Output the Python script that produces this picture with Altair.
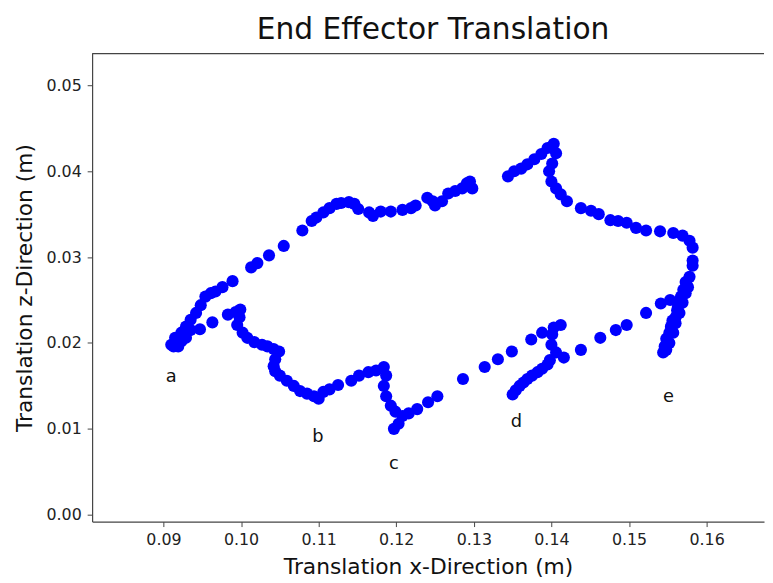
import altair as alt
import pandas as pd

# End effector trajectory (m)
x_vals = [
    0.0910, 0.0919, 0.0915, 0.0923, 0.0929, 0.0923, 0.0929, 0.0935, 0.0942, 0.0948,
    0.0954, 0.0961, 0.0967, 0.0976, 0.0989, 0.1013, 0.1021, 0.1036, 0.1055, 0.1079,
    0.1091, 0.1097, 0.1106, 0.1114, 0.1123, 0.1129, 0.1139, 0.1146, 0.1151, 0.1165,
    0.1170, 0.1180, 0.1193, 0.1208, 0.1219, 0.1225, 0.1240, 0.1247, 0.1250, 0.1259,
    0.1267, 0.1276, 0.1285, 0.1291, 0.1295, 0.1298,
    0.1344, 0.1352, 0.1361, 0.1369, 0.1378, 0.1387, 0.1395, 0.1403, 0.1406, 0.1401,
    0.1397, 0.1400, 0.1406, 0.1412, 0.1420, 0.1438, 0.1451, 0.1461, 0.1476, 0.1486,
    0.1497, 0.1509, 0.1522, 0.1540, 0.1557, 0.1569, 0.1578, 0.1582, 0.1582, 0.1582,
    0.1578, 0.1576, 0.1573, 0.1569, 0.1565, 0.1560, 0.1557, 0.1550, 0.1544, 0.1546,
    0.1554, 0.1563, 0.1567, 0.1573,
    0.1548, 0.1552, 0.1556, 0.1560, 0.1562, 0.1566, 0.1570, 0.1574, 0.1548, 0.1552,
    0.1541, 0.1553, 0.1522, 0.1497, 0.1483, 0.1463, 0.1438, 0.1416,
    0.1374, 0.1388, 0.1403, 0.1412, 0.1401, 0.1400, 0.1406, 0.1395, 0.1382, 0.1369,
    0.1359, 0.1350, 0.1354, 0.1364, 0.1375, 0.1388, 0.1398,
    0.1349, 0.1331, 0.1314, 0.1286, 0.1253, 0.1241, 0.1227, 0.1216, 0.1208, 0.1203,
    0.1197, 0.1199, 0.1193, 0.1187, 0.1184, 0.1187, 0.1184, 0.1174, 0.1164, 0.1152,
    0.1142, 0.1125, 0.1114, 0.1106, 0.1100, 0.1094, 0.1085, 0.1076, 0.1068, 0.1059,
    0.1050, 0.1044, 0.1042, 0.1044, 0.1049, 0.1042, 0.1034, 0.1027, 0.1017, 0.1008,
    0.1002, 0.0995, 0.0998, 0.0999, 0.0993, 0.0983, 0.0963, 0.0947, 0.0935, 0.0913,
]
z_vals = [
    0.0198, 0.0196, 0.0206, 0.0202, 0.0206, 0.0212, 0.0219, 0.0227, 0.0235, 0.0244,
    0.0254, 0.0258, 0.0260, 0.0265, 0.0272, 0.0288, 0.0293, 0.0302, 0.0313, 0.0331,
    0.0342, 0.0346, 0.0352, 0.0357, 0.0362, 0.0363, 0.0364, 0.0362, 0.0356, 0.0352,
    0.0348, 0.0353, 0.0353, 0.0355, 0.0357, 0.0360, 0.0369, 0.0365, 0.0360, 0.0365,
    0.0374, 0.0377, 0.0380, 0.0386, 0.0388, 0.0380,
    0.0394, 0.0400, 0.0403, 0.0408, 0.0414, 0.0420, 0.0427, 0.0432, 0.0421, 0.0409,
    0.0400, 0.0388, 0.0380, 0.0373, 0.0365, 0.0357, 0.0354, 0.0350, 0.0343, 0.0342,
    0.0340, 0.0334, 0.0331, 0.0330, 0.0328, 0.0325, 0.0319, 0.0311, 0.0296, 0.0290,
    0.0277, 0.0265, 0.0258, 0.0247, 0.0235, 0.0223, 0.0212, 0.0200, 0.0189, 0.0196,
    0.0219, 0.0242, 0.0254, 0.0271,
    0.0205, 0.0212, 0.0226, 0.0230, 0.0238, 0.0250, 0.0262, 0.0268, 0.0192, 0.0200,
    0.0246, 0.0250, 0.0235, 0.0221, 0.0215, 0.0206, 0.0192, 0.0183,
    0.0204, 0.0212, 0.0218, 0.0221, 0.0210, 0.0198, 0.0189, 0.0175, 0.0166, 0.0158,
    0.0150, 0.0140, 0.0145, 0.0154, 0.0162, 0.0170, 0.0180,
    0.0190, 0.0181, 0.0172, 0.0158, 0.0138, 0.0131, 0.0123, 0.0118, 0.0115, 0.0106,
    0.0100, 0.0120, 0.0127, 0.0138, 0.0150, 0.0162, 0.0172, 0.0168, 0.0166, 0.0162,
    0.0156, 0.0151, 0.0146, 0.0143, 0.0135, 0.0138, 0.0141, 0.0144, 0.0150, 0.0156,
    0.0162, 0.0167, 0.0173, 0.0181, 0.0190, 0.0193, 0.0196, 0.0198, 0.0201, 0.0206,
    0.0212, 0.0221, 0.0230, 0.0239, 0.0236, 0.0233, 0.0224, 0.0216, 0.0215, 0.0196,
]

label_text = ["a", "b", "c", "d", "e"]
label_x = [0.0910, 0.1099, 0.1197, 0.1355, 0.1551]
label_z = [0.0160, 0.0091, 0.0059, 0.0108, 0.0137]

x_ticks = [0.09, 0.10, 0.11, 0.12, 0.13, 0.14, 0.15, 0.16]
z_ticks = [0.00, 0.01, 0.02, 0.03, 0.04, 0.05]

df = pd.DataFrame({"x": x_vals, "z": z_vals})
df_lab = pd.DataFrame({"x": label_x, "z": label_z, "t": label_text})

W, H = 679, 473
FONT = "DejaVu Sans"
xs = alt.Scale(domain=[0.0808, 0.1674], nice=False, zero=False)
zs = alt.Scale(domain=[-0.0008, 0.0537], nice=False, zero=False)
x_title = "Translation x-Direction (m)"
z_title = "Translation z-Direction (m)"

x_enc = alt.X("x:Q", scale=xs, title=x_title,
              axis=alt.Axis(values=x_ticks, format=".2f", labelPadding=5, titlePadding=9))
z_enc = alt.Y("z:Q", scale=zs, title=z_title,
              axis=alt.Axis(values=z_ticks, format=".2f", labelPadding=6, titlePadding=10))

points = alt.Chart(df).mark_circle(size=150, color="#0000ff", opacity=1).encode(
    x=x_enc, y=z_enc
)

labels = alt.Chart(df_lab).mark_text(
    font=FONT, fontSize=18, color="#111111", baseline="middle", align="center"
).encode(x=x_enc, y=z_enc, text="t:N")

top_border = alt.Chart(pd.DataFrame({"k": [0]})).mark_rule(
    color="#444444", strokeWidth=1.2
).encode(x=alt.value(0), x2=alt.value(W), y=alt.value(0))

chart = alt.layer(points, labels, top_border).properties(
    width=W,
    height=H,
    title=alt.TitleParams(
        "End Effector Translation", font=FONT, fontSize=30, fontWeight="normal",
        color="#111111", anchor="middle", offset=8, dx=5,
    ),
    autosize=alt.AutoSizeParams(type="none"),
    padding={"left": 85, "top": 43, "right": 1, "bottom": 58},
).configure_view(stroke=None).configure_axis(
    grid=False,
    domainColor="#444444",
    domainWidth=1.2,
    tickColor="#444444",
    tickSize=5,
    labelFont=FONT,
    labelFontSize=16,
    labelColor="#222222",
    titleFont=FONT,
    titleFontSize=22,
    titleFontWeight="normal",
    titleColor="#111111",
)

chart.save("out.html", embed_options={"renderer": "svg", "actions": False})
